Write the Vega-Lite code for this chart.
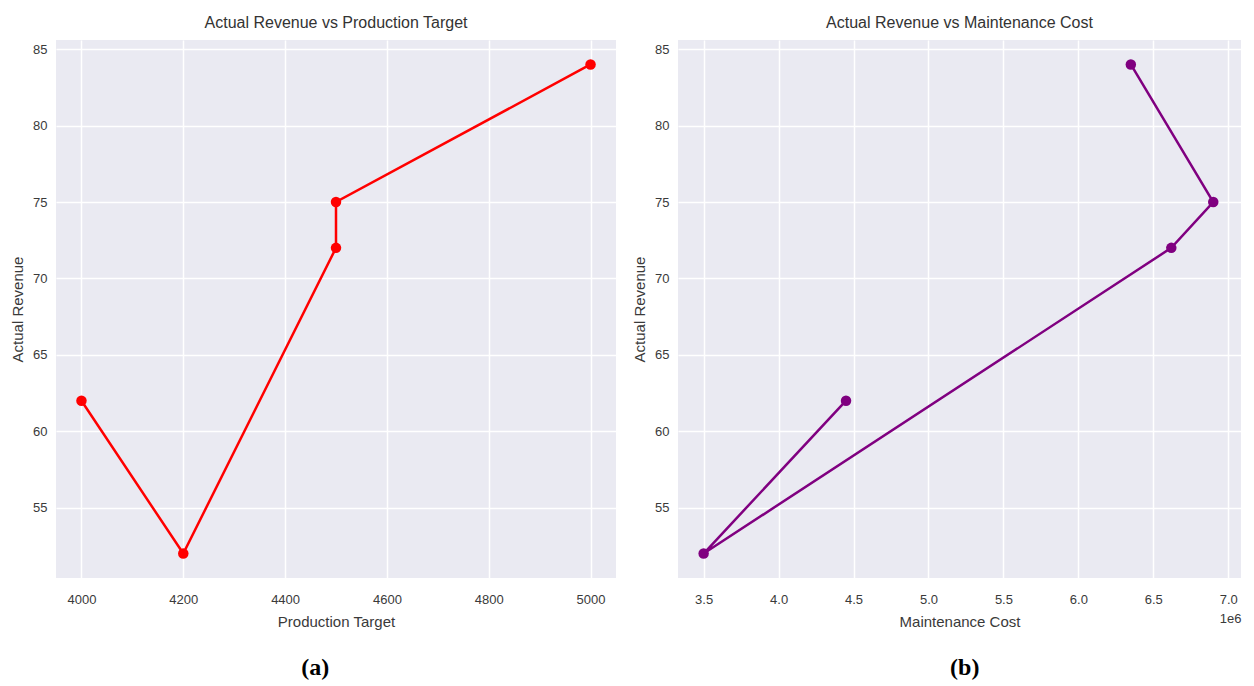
{
  "$schema": "https://vega.github.io/schema/vega-lite/v6.json",
  "background": "white",
  "padding": {"left": 10, "top": 15, "right": 5, "bottom": 5},
  "data": {"values": [
    {"order": 1, "target": 4000, "cost": 4450000, "revenue": 62},
    {"order": 2, "target": 4200, "cost": 3500000, "revenue": 52},
    {"order": 3, "target": 4500, "cost": 6620000, "revenue": 72},
    {"order": 4, "target": 4500, "cost": 6900000, "revenue": 75},
    {"order": 5, "target": 5000, "cost": 6350000, "revenue": 84}
  ]},
  "spacing": 16,
  "hconcat": [
    {
      "title": {"text": "(a)", "orient": "bottom", "font": "Liberation Serif", "fontSize": 24, "fontWeight": "bold", "color": "black", "offset": 27, "anchor": "middle", "frame": "bounds", "dx": 2},
      "vconcat": [
        {
          "width": 560,
          "height": 538,
          "title": {"text": "Actual Revenue vs Production Target", "anchor": "middle", "frame": "group"},
          "encoding": {
            "x": {"field": "target", "type": "quantitative", "scale": {"domain": [3950, 5050], "nice": false, "zero": false}, "axis": {"title": "Production Target", "values": [4000, 4200, 4400, 4600, 4800, 5000], "format": "d"}},
            "y": {"field": "revenue", "type": "quantitative", "scale": {"domain": [50.4, 85.6], "nice": false, "zero": false}, "axis": {"title": "Actual Revenue", "values": [55, 60, 65, 70, 75, 80, 85]}},
            "order": {"field": "order", "type": "quantitative"}
          },
          "layer": [
            {"mark": {"type": "line", "color": "#FF0000", "strokeWidth": 2.5}},
            {"mark": {"type": "point", "filled": true, "color": "#FF0000", "size": 110, "opacity": 1}}
          ]
        }
      ]
    },
    {
      "title": {"text": "(b)", "orient": "bottom", "font": "Liberation Serif", "fontSize": 24, "fontWeight": "bold", "color": "black", "offset": 27, "anchor": "middle", "frame": "bounds", "dx": 28},
      "vconcat": [
        {
          "width": 563,
          "height": 538,
          "title": {"text": "Actual Revenue vs Maintenance Cost", "anchor": "middle", "frame": "group"},
          "encoding": {
            "y": {"field": "revenue", "type": "quantitative", "scale": {"domain": [50.4, 85.6], "nice": false, "zero": false}, "axis": {"title": "Actual Revenue", "values": [55, 60, 65, 70, 75, 80, 85]}},
            "order": {"field": "order", "type": "quantitative"}
          },
          "layer": [
            {
              "mark": {"type": "line", "color": "#800080", "strokeWidth": 2.5},
              "encoding": {
                "x": {"field": "cost", "type": "quantitative", "scale": {"domain": [3329000, 7085000], "nice": false, "zero": false}, "axis": {"title": "Maintenance Cost", "values": [3500000, 4000000, 4500000, 5000000, 5500000, 6000000, 6500000, 7000000], "labelExpr": "format(datum.value / 1000000, '.1f')"}}
              }
            },
            {
              "mark": {"type": "point", "filled": true, "color": "#800080", "size": 110, "opacity": 1},
              "encoding": {
                "x": {"field": "cost", "type": "quantitative", "axis": {"orient": "bottom", "title": "1e6", "labels": false, "grid": false, "titleAnchor": "end", "titleAlign": "right", "titleFontSize": 13, "titleY": 34, "titlePadding": 0}}
              }
            }
          ],
          "resolve": {"axis": {"x": "independent"}}
        }
      ]
    }
  ],
  "config": {
    "font": "Liberation Sans",
    "view": {"fill": "#EAEAF2", "stroke": null},
    "axis": {"grid": true, "gridColor": "#FFFFFF", "gridWidth": 1.5, "domain": false, "ticks": false, "labelFont": "Liberation Sans", "labelFontSize": 13, "labelColor": "#3a3a3a", "titleFont": "Liberation Sans", "titleFontSize": 15, "titleFontWeight": "normal", "titleColor": "#3a3a3a"},
    "axisX": {"labelPadding": 15, "titlePadding": 8},
    "axisY": {"labelPadding": 9, "titlePadding": 7},
    "title": {"font": "Liberation Sans", "fontSize": 16, "fontWeight": "normal", "color": "#333333", "offset": 9}
  }
}
